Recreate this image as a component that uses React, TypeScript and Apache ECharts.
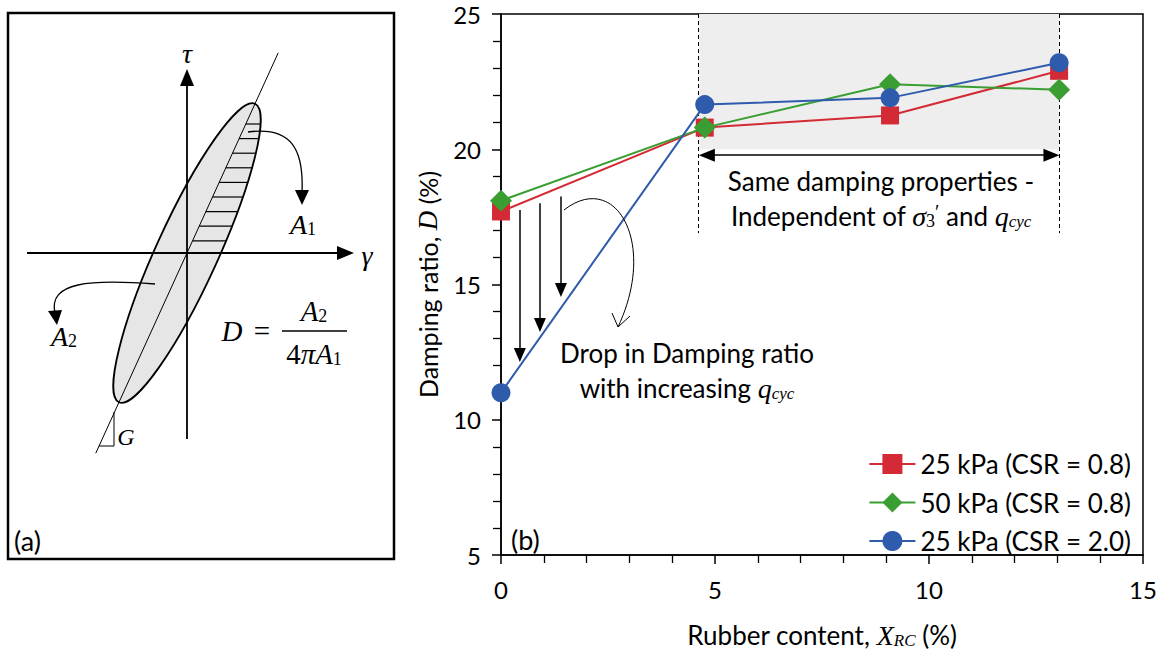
import React, { useEffect, useRef } from 'react';
import * as echarts from 'echarts';

// ---------- data (panel b) ----------
const rubberContent = [0, 4.76, 9.09, 13.04];
const damping25kPaCSR08 = [17.7, 20.8, 21.25, 22.9];
const damping50kPaCSR08 = [18.1, 20.8, 22.4, 22.2];
const damping25kPaCSR20 = [11.0, 21.65, 21.9, 23.2];
const seriesNames = ['25 kPa (CSR = 0.8)', '50 kPa (CSR = 0.8)', '25 kPa (CSR = 2.0)'];
const seriesColors = ['#d42a35', '#3b9e33', '#2e5bab'];
const seriesSymbols = ['rect', 'diamond', 'circle'];
const seriesSymbolSizes = [18, 22, 19];

const xRange = [0, 15, 5];
const yRange = [5, 25, 5];

// annotation anchors (data units)
const regionX = [4.62, 13.05];
const regionY = [20, 25];
const dashedBottom = 16.9;
const spanArrowY = 19.78;
const dropArrowX = [0.44, 0.91, 1.4];
const dropArrowTop = [17.75, 18.0, 18.25];
const dropArrowTip = [12.13, 13.24, 14.54];

const LATO = 'Lato';
const SERIF = 'Liberation Serif';

const mathRich = (size: number) => ({
  i: { fontFamily: SERIF, fontStyle: 'italic', fontSize: size + 2, lineHeight: 28, color: '#000' },
  r: { fontFamily: SERIF, fontSize: size + 2, lineHeight: 28, color: '#000' },
  s: { fontFamily: SERIF, fontStyle: 'italic', fontSize: Math.round(size * 0.66), lineHeight: 14, verticalAlign: 'bottom', color: '#000' },
  sr: { fontFamily: SERIF, fontSize: Math.round(size * 0.68), lineHeight: 14, verticalAlign: 'bottom', color: '#000' },
  sup: { fontFamily: SERIF, fontSize: Math.round(size * 0.75), lineHeight: 14, verticalAlign: 'top', color: '#000' },
});

function buildPanelA(): any[] {
  const deg = Math.PI / 180;
  const th = 65.5 * deg;
  const c = Math.cos(th);
  const s = Math.sin(th);
  const cx = 187;
  const cy = 253;
  const A = 164;
  const B = 31;
  const els: any[] = [];
  const blk = '#000';

  els.push({ type: 'rect', shape: { x: 8, y: 13, width: 386, height: 546 }, style: { fill: '#fff', stroke: blk, lineWidth: 2.5 }, z: 1 });
  els.push({
    type: 'ellipse', x: cx, y: cy, rotation: th,
    shape: { cx: 0, cy: 0, rx: A, ry: B },
    style: { fill: '#e6e6e6', stroke: blk, lineWidth: 1.8 }, z: 2,
  });
  const hy = [124, 138.6, 153.2, 167.8, 182.4, 197, 211.6, 226.2, 240.8];
  hy.forEach((y) => {
    const Y = cy - y;
    const qa = (c * c) / (A * A) + (s * s) / (B * B);
    const qb = 2 * Y * ((c * s) / (A * A) - (s * c) / (B * B));
    const qc = Y * Y * ((s * s) / (A * A) + (c * c) / (B * B)) - 1;
    const disc = qb * qb - 4 * qa * qc;
    if (disc < 0) return;
    const dxR = (-qb + Math.sqrt(disc)) / (2 * qa);
    const dxL = (Y * c) / s;
    if (dxR <= dxL) return;
    els.push({ type: 'line', shape: { x1: cx + dxL, y1: y, x2: cx + dxR, y2: y }, style: { stroke: blk, lineWidth: 1.2 }, z: 3 });
  });
  els.push({ type: 'line', shape: { x1: cx - 220 * c, y1: cy + 220 * s, x2: cx + 220 * c, y2: cy - 220 * s }, style: { stroke: blk, lineWidth: 1 }, z: 4 });
  els.push({ type: 'line', shape: { x1: 187, y1: 84, x2: 187, y2: 439 }, style: { stroke: blk, lineWidth: 1.8 }, z: 5 });
  els.push({ type: 'polygon', shape: { points: [[187, 69], [180, 86], [194, 86]] }, style: { fill: blk }, z: 5 });
  els.push({ type: 'line', shape: { x1: 27, y1: 253, x2: 340, y2: 253 }, style: { stroke: blk, lineWidth: 1.8 }, z: 5 });
  els.push({ type: 'polygon', shape: { points: [[354, 253], [337, 246], [337, 260]] }, style: { fill: blk }, z: 5 });
  els.push({ type: 'polyline', shape: { points: [[114, 412], [114, 446], [99, 446]] }, style: { stroke: blk, lineWidth: 1, fill: 'none' }, z: 5 });
  els.push({ type: 'bezierCurve', shape: { x1: 248, y1: 132, cpx1: 292, cpy1: 126, cpx2: 304, cpy2: 150, x2: 302, y2: 193 }, style: { stroke: blk, lineWidth: 1.3, fill: 'none' }, z: 5 });
  els.push({ type: 'polygon', shape: { points: [[302, 205], [295, 190], [309, 190]] }, style: { fill: blk }, z: 5 });
  els.push({ type: 'bezierCurve', shape: { x1: 155, y1: 284, cpx1: 90, cpy1: 279, cpx2: 48, cpy2: 282, x2: 55, y2: 313 }, style: { stroke: blk, lineWidth: 1.3, fill: 'none' }, z: 5 });
  els.push({ type: 'polygon', shape: { points: [[57, 325], [48, 311], [62, 310]] }, style: { fill: blk }, z: 5 });

  const txt = (x: number, y: number, text: string, size: number) => ({
    type: 'text', z: 6,
    style: {
      x, y, text, align: 'center', verticalAlign: 'middle',
      fontFamily: SERIF, fontSize: size, fill: blk, rich: mathRich(size),
    },
  });
  els.push(txt(187, 53, '{i|τ}', 26));
  els.push(txt(367, 255, '{i|γ}', 26));
  els.push(txt(303, 224, '{i|A}{sr|1}', 26));
  els.push(txt(64, 336, '{i|A}{sr|2}', 26));
  els.push(txt(126, 437, '{i|G}', 22));
  els.push(txt(232, 331, '{i|D}', 27));
  els.push(txt(262, 331, '{r|=}', 27));
  els.push(txt(314, 311, '{i|A}{sr|2}', 27));
  els.push({ type: 'line', shape: { x1: 282, y1: 331, x2: 347, y2: 331 }, style: { stroke: blk, lineWidth: 1.5 }, z: 6 });
  els.push(txt(314, 354, '{r|4}{i|πA}{sr|1}', 27));
  els.push({ type: 'text', z: 6, style: { x: 14, y: 540, text: '(a)', fontFamily: LATO, fontSize: 27, fill: blk, align: 'left', verticalAlign: 'middle' } });
  return els;
}

function buildPanelBAnnotations(): any[] {
  const blk = '#000';
  const els: any[] = [];
  const t = (x: number, y: number, text: string, size: number, align = 'center') => ({
    type: 'text', z: 50,
    style: {
      x, y, text, align, verticalAlign: 'middle', fontFamily: LATO, fontSize: size, fill: blk,
      lineHeight: 28, rich: mathRich(size),
    },
  });
  els.push(t(881, 181, 'Same damping properties -', 26));
  els.push(t(881, 216, 'Independent of {i|σ}{sr|3}{sup|′} and {i|q}{s|cyc}', 26));
  els.push(t(687, 353, 'Drop in Damping ratio', 26));
  els.push(t(687, 388, 'with increasing {i|q}{s|cyc}', 26));
  els.push(t(511, 539, '(b)', 27, 'left'));
  els.push({ type: 'bezierCurve', z: 50, shape: { x1: 564, y1: 210, cpx1: 615, cpy1: 170, cpx2: 658, cpy2: 242, x2: 618, y2: 327 }, style: { stroke: blk, lineWidth: 1, fill: 'none' } });
  els.push({ type: 'polyline', z: 50, shape: { points: [[612, 313], [618, 327], [630, 316]] }, style: { stroke: blk, lineWidth: 1, fill: 'none' } });
  return els;
}

function buildOption(): any {
  const seriesValues = [damping25kPaCSR08, damping50kPaCSR08, damping25kPaCSR20];
  const dash = { type: [4, 3], color: '#000', width: 1 };
  const solid = { type: 'solid', color: '#000', width: 1.5 };
  const markLineData: any[] = [
    [{ coord: [regionX[0], regionY[1]], symbol: 'none', lineStyle: dash }, { coord: [regionX[0], dashedBottom], symbol: 'none' }],
    [{ coord: [regionX[1], regionY[1]], symbol: 'none', lineStyle: dash }, { coord: [regionX[1], dashedBottom], symbol: 'none' }],
    [
      { coord: [regionX[0] + 0.19, spanArrowY], symbol: 'triangle', symbolSize: [13, 16], lineStyle: solid },
      { coord: [regionX[1] - 0.19, spanArrowY], symbol: 'triangle', symbolSize: [13, 16] },
    ],
  ];
  dropArrowX.forEach((x, i) => {
    markLineData.push([
      { coord: [x, dropArrowTop[i]], symbol: 'none', lineStyle: solid },
      { coord: [x, dropArrowTip[i] + 0.26], symbol: 'triangle', symbolSize: [12, 14] },
    ]);
  });

  const series: any[] = seriesNames.map((name, k) => ({
    name,
    type: 'line',
    data: rubberContent.map((x, i) => [x, seriesValues[k][i]]),
    symbol: seriesSymbols[k],
    symbolSize: seriesSymbolSizes[k],
    color: seriesColors[k],
    lineStyle: { color: seriesColors[k], width: 2 },
    itemStyle: { color: seriesColors[k] },
    z: 10 + k,
  }));
  series[0].markArea = {
    silent: true,
    itemStyle: { color: '#eeeeee' },
    data: [[{ coord: [regionX[0], regionY[0]] }, { coord: [regionX[1], regionY[1]] }]],
  };
  series[0].markLine = {
    silent: true,
    animation: false,
    label: { show: false },
    symbol: ['none', 'none'],
    data: markLineData,
  };

  const axisCommon = {
    axisLine: { show: true, lineStyle: { color: '#000', width: 1.5 } },
    axisTick: { show: true, inside: false, length: 9, lineStyle: { color: '#000', width: 1.5 } },
    minorTick: { show: true, splitNumber: 5, length: 8, lineStyle: { color: '#000', width: 1.3 } },
    splitLine: { show: false },
    minorSplitLine: { show: false },
    axisLabel: { color: '#000', fontFamily: LATO, fontSize: 24 },
  };

  return {
    animation: false,
    backgroundColor: '#fff',
    grid: { left: 501, right: 23, top: 14, bottom: 104, show: true, borderColor: '#000', borderWidth: 1.5, backgroundColor: 'transparent' },
    xAxis: {
      type: 'value', min: xRange[0], max: xRange[1], interval: xRange[2],
      ...axisCommon,
      axisLabel: { ...axisCommon.axisLabel, margin: 22 },
      name: 'Rubber content, {i|X}{s|RC} (%)',
      nameLocation: 'middle', nameGap: 66,
      nameTextStyle: { color: '#000', fontFamily: LATO, fontSize: 26, lineHeight: 28, rich: mathRich(26) },
    },
    yAxis: {
      type: 'value', min: yRange[0], max: yRange[1], interval: yRange[2],
      ...axisCommon,
      axisLabel: { ...axisCommon.axisLabel, margin: 20 },
      name: 'Damping ratio, {i|D} (%)',
      nameLocation: 'middle', nameGap: 57,
      nameTextStyle: { color: '#000', fontFamily: LATO, fontSize: 25, lineHeight: 28, rich: mathRich(25) },
    },
    legend: {
      data: seriesNames,
      orient: 'vertical',
      right: 30,
      top: 446,
      align: 'left',
      itemWidth: 46,
      itemHeight: 25,
      itemGap: 12.5,
      textStyle: { color: '#000', fontFamily: LATO, fontSize: 26, lineHeight: 25 },
      selectedMode: false,
    },
    series,
    graphic: { elements: [...buildPanelA(), ...buildPanelBAnnotations()] },
  };
}

export default function App() {
  const ref = useRef<HTMLDivElement>(null);
  useEffect(() => {
    if (!ref.current) return;
    const chart = echarts.init(ref.current, null, { renderer: 'svg' });
    chart.setOption(buildOption());
    return () => chart.dispose();
  }, []);
  return (
    <div
      ref={ref}
      style={{ position: 'fixed', left: 0, top: 0, width: 1166, height: 659, background: '#fff' }}
    />
  );
}
